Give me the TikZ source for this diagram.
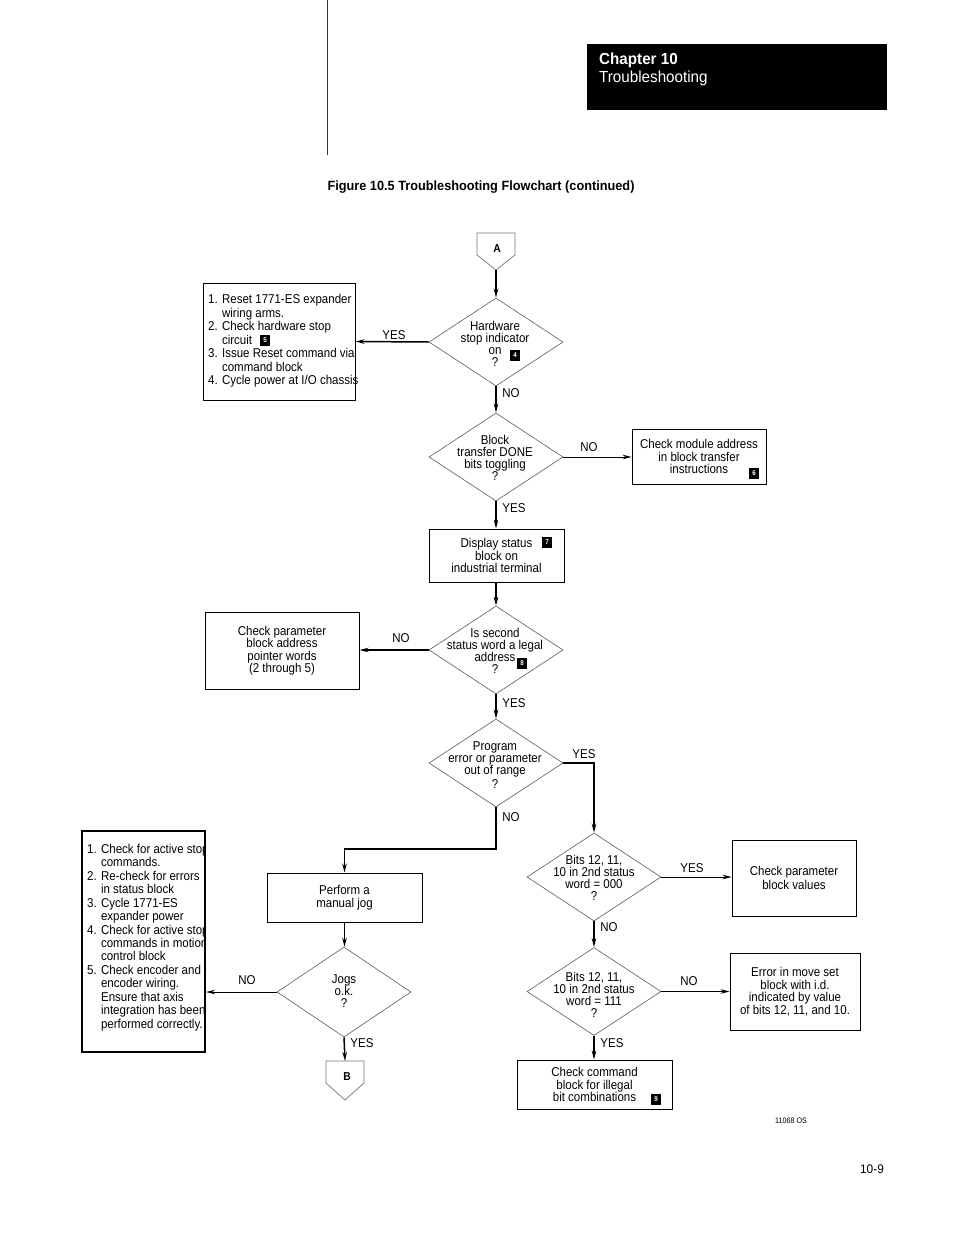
\documentclass[tikz,border=0pt]{standalone}
\usepackage{fontspec}
\setmainfont{Liberation Sans}[FakeStretch=0.9]
\newfontfamily\widefont{Liberation Sans}[FakeStretch=0.95]
\usetikzlibrary{arrows.meta,shapes.geometric}
\begin{document}
\begin{tikzpicture}[x=1pt,y=-1pt,
  every node/.style={font=\fontsize{12.8}{12}\selectfont, inner sep=0pt},
  dia/.style={diamond, draw=black!65, line width=0.6pt, minimum width=134pt, minimum height=88pt, inner sep=0pt},
  dtxt/.style={align=center, font=\fontsize{12.8}{12}\selectfont},
  box/.style={draw, line width=0.9pt, align=center, font=\fontsize{12.8}{12.5}\selectfont},
  lbl/.style={font=\fontsize{12.8}{12}\selectfont},
  badge/.style={fill=black, text=white, font=\fontsize{7}{7}\selectfont\bfseries, minimum width=10pt, minimum height=11pt},
  arr/.style={line width=1.5pt, -{Stealth[length=9pt,width=4.5pt]}},
  tarr/.style={line width=1pt, -{Stealth[length=9pt,width=4.5pt]}},
  conn/.style={draw=black!55, line width=0.7pt}
]
\useasboundingbox (0,0) rectangle (954,1235);

% header
\draw[line width=0.8pt, black!80] (327,0) -- (327,155);
\fill[black] (587,44) rectangle (887,110);
\node[anchor=west, text=white, font=\widefont\fontsize{16}{16}\selectfont\bfseries] (chap) at (599,60) {Chapter 10};
\node[anchor=west, text=white, font=\widefont\fontsize{16}{16}\selectfont] (trb) at (599,78) {Troubleshooting};
\node[font=\widefont\fontsize{13.4}{13.4}\selectfont\bfseries] (title) at (481,187) {Figure 10.5 Troubleshooting Flowchart (continued)};

% connector A
\draw[conn] (477,233) -- (515,233) -- (515,255) -- (496,270) -- (477,255) -- cycle;
\node[font=\fontsize{11.5}{11}\selectfont\bfseries] (Alab) at (497,249) {A};
\coordinate (Abot) at (496,270);

% diamond 1
\node[dia] (d1) at (496,342) {};
\node[dtxt] (d1t) at (495,344) {Hardware\\stop indicator\\on\\?};
\node[badge] (m4) at (515,355) {4};

% box 1
\node[box, minimum width=152pt, minimum height=117pt] (b1) at (279,341.5) {};
\node[anchor=west, align=left, font=\fontsize{12.8}{13.5}\selectfont] (b1t) at (208,341) {1. Reset 1771-ES expander\\
\phantom{1. }wiring arms.\\
2. Check hardware stop\\
\phantom{2. }circuit\\
3. Issue Reset command via\\
\phantom{3. }command block\\
4. Cycle power at I/O chassis};
\node[badge] (m5) at (265,340) {5};

% diamond 2
\node[dia] (d2) at (496,457) {};
\node[dtxt] (d2t) at (495,458) {Block\\transfer DONE\\bits toggling\\?};

% box 2
\node[box, minimum width=134pt, minimum height=55pt] (b2) at (699,456.5) {Check module address\\in block transfer\\instructions};
\node[badge] (m6) at (754,473) {6};

% box 3
\node[box, minimum width=135pt, minimum height=53pt] (b3) at (496.5,555.5) {Display status\\block on\\industrial terminal};
\node[badge] (m7) at (547,542) {7};

% diamond 3
\node[dia] (d3) at (496,650) {};
\node[dtxt] (d3t) at (495,651) {Is second\\status word a legal\\address\\?};
\node[badge] (m8) at (522,663) {8};

% box 4
\node[box, minimum width=154pt, minimum height=77pt] (b4) at (282,650.5) {Check parameter\\block address\\pointer words\\(2 through 5)};

% diamond 4
\node[dia] (d4) at (496,763) {};
\node[dtxt] (d4t) at (495,765) {Program\\error or parameter\\out of range\\[2pt]?};

% diamond 5
\node[dia] (d5) at (594,877) {};
\node[dtxt] (d5t) at (594,878) {Bits 12, 11,\\10 in 2nd status\\word = 000\\?};

% box 7
\node[box, minimum width=124pt, minimum height=76pt] (b7) at (794,878) {Check parameter\\[1.5pt]block values};

% diamond 7
\node[dia] (d7) at (594,991.5) {};
\node[dtxt] (d7t) at (594,995) {Bits 12, 11,\\10 in 2nd status\\word = 111\\?};

% box 8
\node[box, minimum width=130pt, minimum height=77pt] (b8) at (795,991.5) {Error in move set\\block with i.d.\\indicated by value\\of bits 12, 11, and 10.};

% box 9
\node[box, minimum width=155pt, minimum height=49pt] (b9) at (594.5,1084.5) {Check command\\block for illegal\\bit combinations};
\node[badge] (m9) at (656,1099) {9};

% box 5
\node[box, minimum width=155pt, minimum height=49pt] (b5) at (344.5,897.5) {Perform a\\manual jog};

% diamond 6
\node[dia, minimum height=90pt] (d6) at (344,992) {};
\node[dtxt] (d6t) at (344,991.5) {Jogs\\o.k.\\?};

% box 6
\node[draw, line width=2pt, minimum width=123pt, minimum height=221pt] (b6) at (143.5,941.5) {};
\begin{scope}
\clip (82,831) rectangle (205,1052);
\node[anchor=west, align=left, font=\fontsize{12.8}{13.45}\selectfont] (b6t) at (87,937.5) {1. Check for active stop\\
\phantom{1. }commands.\\
2. Re-check for errors\\
\phantom{2. }in status block\\
3. Cycle 1771-ES\\
\phantom{3. }expander power\\
4. Check for active stop\\
\phantom{4. }commands in motion\\
\phantom{4. }control block\\
5. Check encoder and\\
\phantom{5. }encoder wiring.\\
\phantom{5. }Ensure that axis\\
\phantom{5. }integration has been\\
\phantom{5. }performed correctly.};
\end{scope}

% connector B
\draw[conn] (326,1061) -- (364,1061) -- (364,1083) -- (345,1100) -- (326,1083) -- cycle;
\node[font=\fontsize{11.5}{11}\selectfont\bfseries] (Blab) at (347,1077) {B};
\coordinate (Btop) at (345,1061);

% connectors
\draw[arr] (Abot) -- (d1.north);
\draw[arr] (d1.west) -- (b1.east);
\draw[arr] (d1.south) -- (d2.north);
\draw[tarr] (d2.east) -- (d2.east -| b2.west);
\draw[arr] (d2.south) -- (d2.south |- b3.north);
\draw[arr] (d2.south |- b3.south) -- (d3.north);
\draw[arr] (d3.west) -- (d3.west -| b4.east);
\draw[arr] (d3.south) -- (d4.north);
\draw[arr] (d4.east) -| (d5.north);
\coordinate (k1) at (496,849);
\draw[arr] (d4.south) -- (k1) -| (b5.north);
\draw[arr] (b5.south) -- (b5.south |- d6.north);
\draw[tarr] (d6.west) -- (d6.west -| b6.east);
\draw[arr] (d6.south) -- (Btop);
\draw[tarr] (d5.east) -- (d5.east -| b7.west);
\draw[arr] (d5.south) -- (d7.north);
\draw[tarr] (d7.east) -- (d7.east -| b8.west);
\draw[arr] (d7.south) -- (d7.south |- b9.north);

% labels
\node[lbl] (l1) at (394,335) {YES};
\node[lbl] (l2) at (511,393) {NO};
\node[lbl] (l3) at (589,447) {NO};
\node[lbl] (l4) at (514,508) {YES};
\node[lbl] (l5) at (401,638) {NO};
\node[lbl] (l6) at (514,703) {YES};
\node[lbl] (l7) at (584,754) {YES};
\node[lbl] (l8) at (511,817) {NO};
\node[lbl] (l9) at (692,868) {YES};
\node[lbl] (l10) at (609,927) {NO};
\node[lbl] (l11) at (689,981) {NO};
\node[lbl] (l12) at (612,1043) {YES};
\node[lbl] (l13) at (247,980) {NO};
\node[lbl] (l14) at (362,1043) {YES};

\node[font=\fontsize{8}{8}\selectfont] (code) at (791,1121) {11068 OS};
\node[font=\widefont\fontsize{12.5}{12}\selectfont] (page) at (872,1169) {10-9};
\end{tikzpicture}
\end{document}
